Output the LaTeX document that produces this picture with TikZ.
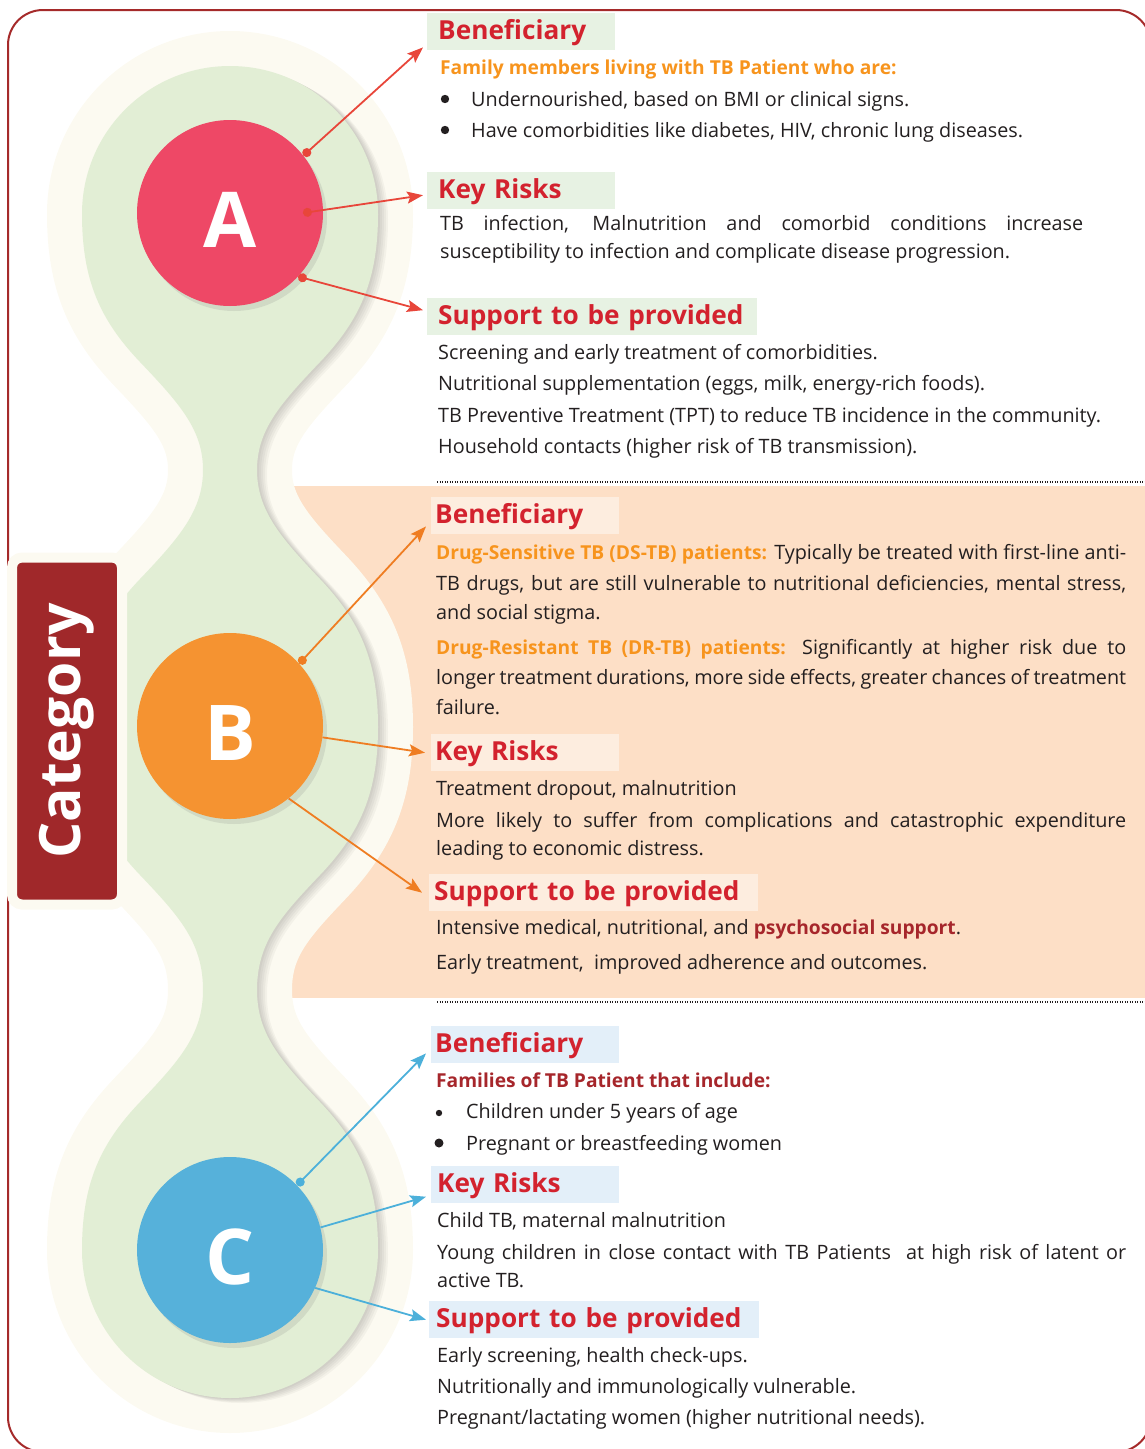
\documentclass[tikz,border=0pt]{standalone}
\usepackage{fontspec}
\setmainfont{Open Sans}
\usetikzlibrary{arrows.meta,shadows}

\definecolor{frame}{HTML}{A52A2A}
\definecolor{stemcream}{HTML}{FCFAF1}
\definecolor{stemgreen}{HTML}{E2EED5}
\definecolor{peach}{HTML}{FDDFC6}
\definecolor{catred}{HTML}{A0282A}
\definecolor{circA}{HTML}{EE4866}
\definecolor{circB}{HTML}{F59331}
\definecolor{circC}{HTML}{56B1DA}
\definecolor{lineA}{HTML}{E8463A}
\definecolor{lineB}{HTML}{EF7D22}
\definecolor{lineC}{HTML}{4CB0DA}
\definecolor{headred}{HTML}{D3222E}
\definecolor{boxA}{HTML}{E7F2E3}
\definecolor{boxB}{HTML}{FDEDDF}
\definecolor{boxC}{HTML}{E3EFF9}
\definecolor{bodytext}{HTML}{231F20}
\definecolor{suborange}{HTML}{F7941D}
\definecolor{subred}{HTML}{A6262B}

\newcommand{\bodyfnt}{\fontsize{19.8}{24}\selectfont}
\newcommand{\subfnt}{\fontsize{19.2}{24}\selectfont\bfseries}
\newcommand{\headfnt}{\fontsize{26.2}{30}\selectfont\bfseries}
\newcommand{\letterfnt}{\fontsize{77}{80}\selectfont\bfseries}
\newcommand{\catfnt}{\fontsize{57}{60}\selectfont\bfseries}

% outline of the stem with its three bulbs
\newcommand{\stempath}{(230,66) .. controls (311.7,66) and (378,132) .. (378,214)
  .. controls (378,280) and (360,320) .. (320,362) .. controls (280,404) and (257,430) .. (257,470)
  .. controls (257,510) and (280,537) .. (320,579) .. controls (360,621) and (378,661) .. (378,727)
  .. controls (378,793) and (360,833) .. (320,875) .. controls (280,917) and (257,943) .. (257,990)
  .. controls (257,1034) and (280,1060) .. (320,1102) .. controls (360,1144) and (378,1184) .. (378,1250)
  .. controls (378,1331.7) and (311.7,1398) .. (230,1398)
  .. controls (148.3,1398) and (82,1331.7) .. (82,1250)
  .. controls (82,1184) and (100,1144) .. (140,1102) .. controls (180,1060) and (203,1034) .. (203,990)
  .. controls (203,943) and (180,917) .. (140,875) .. controls (100,833) and (82,793) .. (82,727)
  .. controls (82,661) and (100,621) .. (140,579) .. controls (180,537) and (203,510) .. (203,470)
  .. controls (203,430) and (180,404) .. (140,362) .. controls (100,320) and (82,280) .. (82,214)
  .. controls (82,132) and (148.3,66) .. (230,66) -- cycle}

\tikzset{
  bubble/.style={circle, fill=#1, minimum size=186pt, inner sep=0pt, text=white,
    font=\letterfnt, text height=69pt, text depth=0pt,
    drop shadow={shadow xshift=4pt, shadow yshift=-5pt, opacity=.18}},
  head/.style={anchor=north west, fill=#1, text=headred, font=\headfnt,
    inner ysep=6pt, text height=20pt, text depth=5pt, align=left},
  txt/.style={anchor=base west, inner sep=0pt, text=bodytext, font=\bodyfnt},
  link/.style={draw=#1, line width=1.8pt, -{Stealth[length=16pt,width=12pt,inset=3pt]}},
  dotlink/.style={link=#1, {Circle[length=9pt]}-{Stealth[length=16pt,width=12pt,inset=3pt]}},
  sep/.style={line width=1.2pt, dash pattern=on 1.2pt off 1.3pt, bodytext}
}

\begin{document}
\begin{tikzpicture}[x=1pt,y=-1pt]
  \useasboundingbox (0,0) rectangle (1145,1449);
  \clip (0,0) rectangle (1145,1449);

  % background
  \fill[peach] (290,486) rectangle (1145,998);
  \path[fill=stemcream, draw=stemcream, line width=70pt, line join=round] \stempath;
  \foreach \s in {2,4,...,10}
    \fill[black, opacity=0.035, shift={(\s,\s*0.5)}] \stempath;
  \fill[stemgreen] \stempath;
  \draw[frame, line width=2pt, rounded corners=35pt] (8,10) rectangle (1151,1452);

  \node[fill=catred, draw=stemcream, line width=10pt, rounded corners=10pt, rotate=90,
    minimum width=347pt, minimum height=110pt, text=white, font=\catfnt] (cat) at (67,731) {Category};

  \node[bubble=circA] (A) at (230,213) {A};
  \node[bubble=circB] (B) at (230,726) {B};
  \node[bubble=circC] (C) at (230,1250) {C};

  % category A
  \node[head=boxA, inner xsep=11pt, text width=166pt] (benA) at (427,13) {Beneficiary};
  \node[txt, text=suborange, font=\subfnt] (subA) at (440,74) {Family members living with TB Patient who are:};
  \fill[bodytext] (445,99) circle (4.2) (445,130) circle (4.2);
  \node[txt] (bA1) at (471,106) {Undernourished, based on BMI or clinical signs.};
  \node[txt] (bA2) at (471,137) {Have comorbidities like diabetes, HIV, chronic lung diseases.};
  \node[head=boxA, inner xsep=11pt, text width=166pt] (keyA) at (427,172) {Key Risks};
  \node[txt] (kA1) at (440,230) {\makebox[643pt][s]{TB infection, Malnutrition and comorbid conditions increase}};
  \node[txt] (kA2) at (440,258) {susceptibility to infection and complicate disease progression.};
  \node[head=boxA, inner xsep=11pt, text width=308pt] (supA) at (427,298) {\mbox{Support to be provided}};
  \node[txt] (sA1) at (438,359) {Screening and early treatment of comorbidities.};
  \node[txt] (sA2) at (438,390) {Nutritional supplementation (eggs, milk, energy-rich foods).};
  \node[txt] (sA3) at (438,422) {TB Preventive Treatment (TPT) to reduce TB incidence in the community.};
  \node[txt] (sA4) at (438,453) {Household contacts (higher risk of TB transmission).};

  \draw[dotlink=lineA] (A.38) -- ([xshift=-4pt,yshift=3pt]benA.south west);
  \draw[dotlink=lineA] ([xshift=73pt]A.center) -- ([xshift=-4pt,yshift=-4.5pt]keyA.west);
  \draw[dotlink=lineA] (A.-43) -- ([xshift=-4pt,yshift=6.5pt]supA.west);

  \draw[sep] (437,482) -- (1145,482);

  % category B
  \node[head=boxB, inner xsep=4pt, text width=180pt] (benB) at (431,497) {Beneficiary};
  \node[txt] (dB1) at (436,559) {\makebox[690pt][s]{{\color{suborange}\subfnt Drug-Sensitive TB (DS-TB) patients:} Typically be treated with first-line anti-}};
  \node[txt] (dB2) at (436,590) {\makebox[690pt][s]{TB drugs, but are still vulnerable to nutritional deficiencies, mental stress,}};
  \node[txt] (dB3) at (436,619) {and social stigma.};
  \node[txt] (dB4) at (436,654) {\makebox[690pt][s]{{\color{suborange}\subfnt Drug-Resistant TB (DR-TB) patients:} Significantly at higher risk due to}};
  \node[txt] (dB5) at (436,684) {\makebox[690pt][s]{longer treatment durations, more side effects, greater chances of treatment}};
  \node[txt] (dB6) at (436,714) {failure.};
  \node[head=boxB, inner xsep=4pt, text width=180pt] (keyB) at (431,734) {Key Risks};
  \node[txt] (kB1) at (436,795) {Treatment dropout, malnutrition};
  \node[txt] (kB2) at (436,827) {\makebox[690pt][s]{More likely to suffer from complications and catastrophic expenditure}};
  \node[txt] (kB3) at (436,855) {leading to economic distress.};
  \node[head=boxB, inner xsep=5pt, text width=319pt] (supB) at (429,874) {\mbox{Support to be provided}};
  \node[txt] (sB1) at (436,934) {Intensive medical, nutritional, and {\color{subred}\subfnt psychosocial support}.};
  \node[txt] (sB2) at (436,969) {Early treatment,\ \ improved adherence and outcomes.};

  \draw[dotlink=lineB] (B.42) -- ([xshift=-5pt,yshift=8pt]benB.south west);
  \draw[link=lineB] (B.-7) -- ([xshift=-6pt]keyB.west);
  \draw[link=lineB] (B.-51) -- ([xshift=-7pt]supB.west);

  \draw[sep] (437,1002) -- (1145,1002);

  % category C
  \node[head=boxC, inner xsep=4pt, text width=180pt] (benC) at (431,1026) {Beneficiary};
  \node[txt, text=subred, font=\subfnt] (subC) at (436,1087) {Families of TB Patient that include:};
  \fill[bodytext] (439,1113) circle (3.2) (439,1143) circle (4.5);
  \node[txt] (bC1) at (466,1118) {Children under 5 years of age};
  \node[txt] (bC2) at (466,1150) {Pregnant or breastfeeding women};
  \node[head=boxC, inner xsep=6pt, text width=176pt] (keyC) at (431,1166) {Key Risks};
  \node[txt] (kC1) at (437,1227) {Child TB, maternal malnutrition};
  \node[txt] (kC2) at (437,1259) {\makebox[689pt][s]{Young children in close contact with TB Patients\ \ at high risk of latent or}};
  \node[txt] (kC3) at (437,1287) {active TB.};
  \node[head=boxC, inner xsep=7pt, text width=316pt] (supC) at (429,1301) {\mbox{Support to be provided}};
  \node[txt] (sC1) at (437,1362) {Early screening, health check-ups.};
  \node[txt] (sC2) at (437,1393) {Nutritionally and immunologically vulnerable.};
  \node[txt] (sC3) at (437,1424) {Pregnant/lactating women (higher nutritional needs).};

  \draw[dotlink=lineC] (C.44) -- ([xshift=-5pt,yshift=10pt]benC.south west);
  \draw[link=lineC] (C.14) -- ([xshift=-5pt,yshift=-12pt]keyC.west);
  \draw[link=lineC] (C.-24) -- ([xshift=-3pt]supC.west);
\end{tikzpicture}
\end{document}
